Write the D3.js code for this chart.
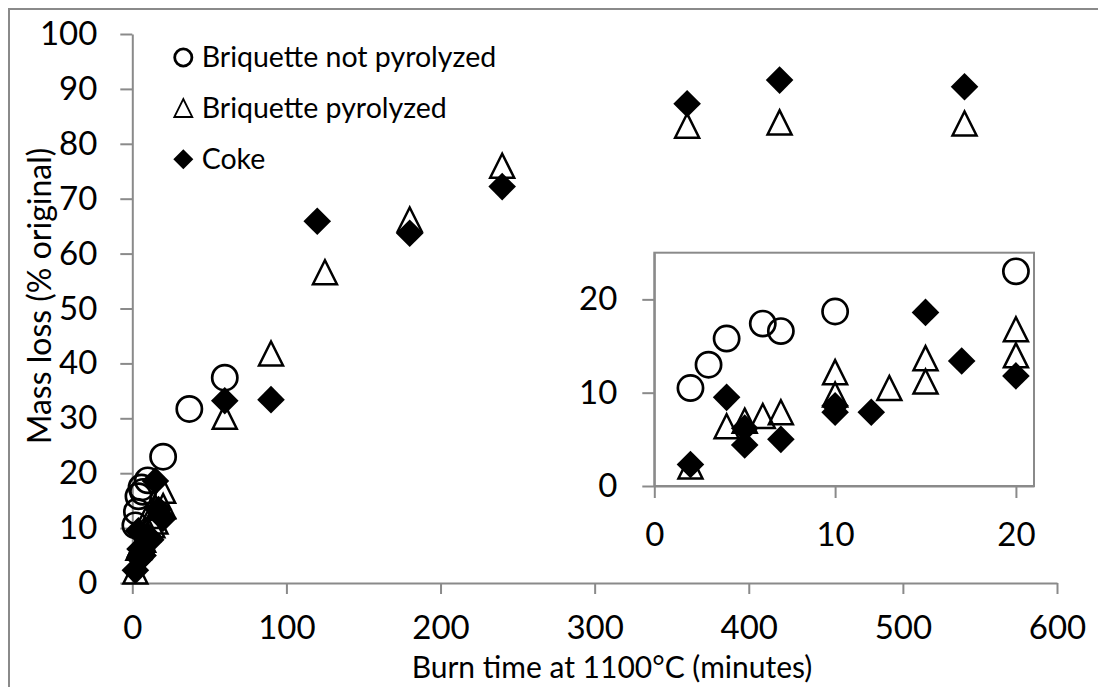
<!DOCTYPE html>
<html>
<head>
<meta charset="utf-8">
<script src="https://cdn.jsdelivr.net/npm/d3@7"></script>
<style>
  body { margin: 0; background: #fff; }
  svg text { font-family: Lato, "Open Sans", sans-serif; fill: #000; }
</style>
</head>
<body>
<svg id="chart" width="1098" height="687"></svg>
<script>
// Burn time (minutes) and mass loss (% of original mass) per sample type
const notPyrolyzedTime = [2, 3, 4, 6, 7, 10, 20, 37, 60];
const notPyrolyzedLoss = [10.5, 13.0, 15.8, 17.4, 16.6, 18.7, 23.0, 31.7, 37.4];

const pyrolyzedTime = [2, 4, 5, 6, 7, 10, 10, 13, 15, 15, 20, 20, 60, 90, 125, 180, 240, 360, 420, 540];
const pyrolyzedLoss = [2.1, 6.4, 7.0, 7.5, 7.9, 12.2, 9.8, 10.5, 13.7, 11.2, 16.8, 14.0, 30.3, 41.8, 56.6, 66.2, 76.0, 83.3, 83.9, 83.7];

const cokeTime = [2, 4, 5, 5, 7, 10, 10, 12, 15, 17, 20, 60, 90, 120, 180, 240, 360, 420, 540];
const cokeLoss = [2.3, 9.5, 6.2, 4.4, 5.0, 8.6, 7.9, 7.9, 18.6, 13.4, 11.8, 33.2, 33.4, 65.9, 63.7, 72.2, 87.3, 91.6, 90.4];

const mainXTicks = [0, 100, 200, 300, 400, 500, 600];
const mainYTicks = [0, 10, 20, 30, 40, 50, 60, 70, 80, 90, 100];
const insetXTicks = [0, 10, 20];
const insetYTicks = [0, 10, 20];

const seriesNames = ["Briquette not pyrolyzed", "Briquette pyrolyzed", "Coke"];
const xTitle = "Burn time at 1100°C (minutes)";
const yTitle = "Mass loss (% original)";

const zip = (xs, ys) => xs.map((t, i) => ({ t, v: ys[i] }));
const series = [
  { name: seriesNames[0], shape: "circle",   data: zip(notPyrolyzedTime, notPyrolyzedLoss) },
  { name: seriesNames[1], shape: "triangle", data: zip(pyrolyzedTime, pyrolyzedLoss) },
  { name: seriesNames[2], shape: "diamond",  data: zip(cokeTime, cokeLoss) }
];

const AXIS_GREY = "#8a8a8a";
const TICK_FONT = "33px";
const svg = d3.select("#chart");

// outer chart frame
svg.append("rect")
  .attr("x", 9).attr("y", 9).attr("width", 1120).attr("height", 700)
  .attr("fill", "none").attr("stroke", AXIS_GREY).attr("stroke-width", 2);

// marker drawing
function drawMarker(sel, shape, s) {
  if (shape === "circle") {
    sel.append("circle").attr("r", s.r)
      .attr("fill", "none").attr("stroke", "#000").attr("stroke-width", s.cw);
  } else if (shape === "triangle") {
    const h = s.h;
    sel.append("path").attr("d", `M0,${-h}L${h},${h}L${-h},${h}Z`)
      .attr("fill", "none").attr("stroke", "#000").attr("stroke-width", s.tw)
      .attr("stroke-linejoin", "miter");
  } else {
    const d = s.d;
    sel.append("path").attr("d", `M0,${-d}L${d},0L0,${d}L${-d},0Z`).attr("fill", "#000");
  }
}
const plotMarker = { r: 12.6, cw: 2.7, h: 12.0, tw: 2.5, d: 13.8 };

function styleAxis(g) {
  g.selectAll(".domain").attr("stroke", AXIS_GREY).attr("stroke-width", 2);
  g.selectAll(".tick line").attr("stroke", AXIS_GREY).attr("stroke-width", 2);
  g.selectAll(".tick text").style("font-size", TICK_FONT).attr("fill", "#000");
}

function drawPoints(g, x, y, filter) {
  series.forEach(s => {
    g.append("g").selectAll("g")
      .data(s.data.filter(filter))
      .join("g")
      .attr("transform", d => `translate(${x(d.t)},${y(d.v)})`)
      .each(function () { drawMarker(d3.select(this), s.shape, plotMarker); });
  });
}

// ---- main plot ----
const x = d3.scaleLinear().domain([0, 600]).range([132.3, 1057]);
const y = d3.scaleLinear().domain([0, 100]).range([583, 34]);

svg.append("g").attr("transform", "translate(0,583)")
  .call(d3.axisBottom(x).tickValues(mainXTicks).tickSize(11).tickSizeOuter(0).tickPadding(22))
  .call(styleAxis);
svg.append("g").attr("transform", "translate(132.3,0)")
  .call(d3.axisLeft(y).tickValues(mainYTicks).tickSize(12).tickSizeOuter(0).tickPadding(23))
  .call(styleAxis);

svg.append("text").attr("x", 612).attr("y", 678).attr("text-anchor", "middle")
  .style("font-size", "30px").text(xTitle);
svg.append("text").attr("transform", "translate(51,296) rotate(-90)").attr("text-anchor", "middle")
  .style("font-size", "32px").text(yTitle);

drawPoints(svg.append("g"), x, y, () => true);

// ---- legend ----
const legendRows = [57.5, 108, 159.3];
const legendMarker = { r: 8.6, cw: 2.8, h: 9.0, tw: 1.8, d: 10 };
const legend = svg.append("g");
series.forEach((s, i) => {
  const row = legend.append("g").attr("transform", `translate(183.3,${legendRows[i]})`);
  drawMarker(row, s.shape, legendMarker);
  legend.append("text").attr("x", 201.7).attr("y", legendRows[i] + 9.5)
    .style("font-size", "28.5px").text(s.name);
});

// ---- inset: first 21 minutes ----
const ix = d3.scaleLinear().domain([0, 21]).range([654.3, 1034]);
const iy = d3.scaleLinear().domain([0, 25]).range([486, 252.7]);

svg.append("rect")
  .attr("x", ix(0)).attr("y", iy(25))
  .attr("width", ix(21) - ix(0)).attr("height", iy(0) - iy(25))
  .attr("fill", "#fff").attr("stroke", AXIS_GREY).attr("stroke-width", 2);

svg.append("g").attr("transform", `translate(0,${iy(0)})`)
  .call(d3.axisBottom(ix).tickValues(insetXTicks).tickSize(12).tickSizeOuter(0).tickPadding(25))
  .call(styleAxis);
svg.append("g").attr("transform", `translate(${ix(0)},0)`)
  .call(d3.axisLeft(iy).tickValues(insetYTicks).tickSize(12).tickSizeOuter(0).tickPadding(25))
  .call(styleAxis);

drawPoints(svg.append("g"), ix, iy, d => d.t <= 21);
</script>
</body>
</html>
